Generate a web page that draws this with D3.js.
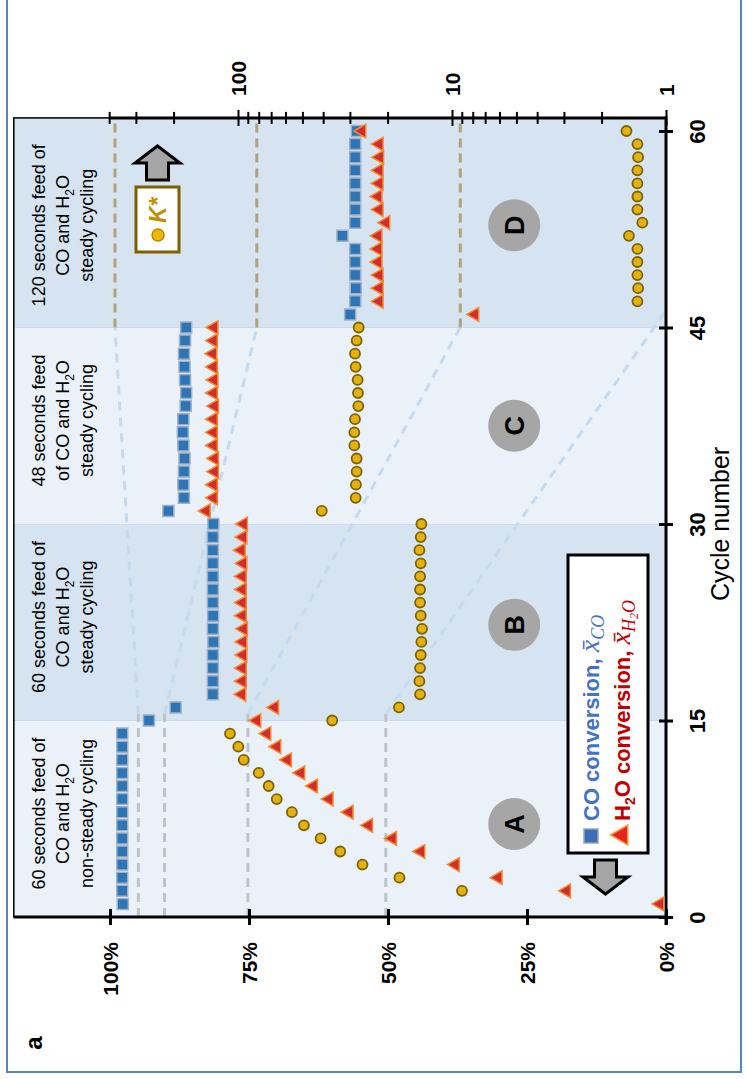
<!DOCTYPE html>
<html>
<head>
<meta charset="utf-8">
<script src="https://cdn.jsdelivr.net/npm/d3@7"></script>
<style>
  body { margin: 0; background: #fff; }
  svg text { font-family: "Liberation Sans", Arial, sans-serif; }
</style>
</head>
<body>
<svg id="chart" width="747" height="1079"></svg>
<script>
// ---- data ----
var cycles = d3.range(1, 61);

// CO conversion, % (cycles 1..60)
var coConversion = [
  97.7, 97.8, 97.8, 97.8, 97.8, 97.8, 97.8, 97.8, 97.8, 97.8, 97.8, 97.8, 97.8, 97.8,
  93.0, 88.2,
  81.5, 81.5, 81.5, 81.5, 81.4, 81.5, 81.45, 81.5, 81.5, 81.5, 81.5, 81.5, 81.5, 81.4,
  89.5,
  86.7, 86.8, 86.7, 86.6, 86.8, 86.9, 86.8, 86.4, 86.3, 86.5, 86.6, 86.7, 86.5, 86.3,
  56.8,
  55.9, 55.8, 55.9, 55.9, 55.9, 58.2, 55.9, 55.9, 55.9, 55.9, 55.9, 55.9, 55.9, 55.6
];

// H2O conversion, % (cycles 1..60)
var h2oConversion = [
  1.1, 17.9, 30.2, 37.9, 44.1, 49.2, 53.5, 57.0, 60.6, 63.4, 65.7, 68.1, 70.0, 71.8,
  73.6, 70.4,
  76.3, 76.2, 76.2, 76.1, 76.1, 76.0, 76.2, 76.2, 76.2, 76.2, 76.1, 76.4, 76.1, 76.0,
  82.7,
  81.4, 81.4, 81.2, 81.2, 81.4, 81.4, 81.4, 81.2, 81.4, 81.3, 81.4, 81.5, 81.4, 81.3,
  34.4,
  51.6, 51.6, 51.6, 51.8, 51.8, 51.8, 50.4, 51.6, 51.8, 51.6, 51.6, 51.5, 51.6, 54.7
];

// K* (log axis), null where no point is drawn
var kStar = [
  null, 8.98, 17.6, 26.2, 33.3, 41.1, 49.2, 56, 65.9, 71.9, 80, 94, 99.7, 109,
  36.3, 17.7,
  14.1, 14.2, 14.1, 14.0, 13.9, 13.8, 14.0, 14.1, 14.1, 14.1, 14.0, 14.2, 14.0, 13.9,
  40.6,
  28.2, 28.1, 27.9, 27.9, 28.6, 28.6, 28.4, 27.4, 27.5, 27.6, 28.2, 28.4, 27.9, 27.3,
  null,
  1.36, 1.35, 1.36, 1.36, 1.36, 1.49, 1.29, 1.36, 1.36, 1.36, 1.36, 1.35, 1.36, 1.53
];

var pctTicks = [0, 25, 50, 75, 100];
var cycleTicks = [0, 15, 30, 45, 60];
var kTicks = [1, 2, 3, 4, 5, 6, 7, 8, 9, 10, 20, 30, 40, 50, 60, 70, 80, 90, 100, 200, 300, 400];
var kLabels = [1, 10, 100];

var bandStarts = [0, 15, 30, 45];
var bandEnds = [15, 30, 45, 61];
var bandLetters = ["A", "B", "C", "D"];
var letterCycles = [7.1, 22.3, 37.5, 52.8];
var bandNoteCycles = [7.9, 22.9, 37.9, 52.8];
var bandNotes = [
  ["60 seconds feed of", "CO and H|2|O", "non-steady cycling"],
  ["60 seconds feed of", "CO and H|2|O", "steady cycling"],
  ["48 seconds feed", "of CO and H|2|O", "steady cycling"],
  ["120 seconds feed of", "CO and H|2|O", "steady cycling"]
];

// dashed guides: % at start (cycles 0-15.5) and target % at the far end
var guideLow = [94.9, 90.2, 75.2, 50.4];
var guideHigh = [99.1, 73.6, 37.0, 0];
var guideHighCycle = [45, 45, 45, 46.3];

// ---- scales ----
var svg = d3.select("#chart");
var x = d3.scaleLinear().domain([0, 100]).range([666, 110]);   // conversion, %
var k = d3.scaleLog().domain([1, 100]).range([666, 238]);      // K*
var y = d3.scaleLinear().domain([0, 60]).range([917, 131]);    // cycle number

var plotL = x(117.3), plotR = x(0), plotT = y(61), plotB = y(0);

// outer figure frame
svg.append("path")
  .attr("d", "M7,0V1072H741V0")
  .attr("fill", "none").attr("stroke", "#5b84b8").attr("stroke-width", 2);

// ---- cycle bands ----
svg.selectAll(".band")
  .data(bandStarts)
  .enter().append("rect")
  .attr("class", "band")
  .attr("x", plotL)
  .attr("width", plotR - plotL)
  .attr("y", function(d, i) { return y(bandEnds[i]); })
  .attr("height", function(d, i) { return y(d) - y(bandEnds[i]); })
  .attr("fill", function(d, i) { return i % 2 ? "#d6e3f0" : "#eaf1f9"; })
  .attr("stroke", function(d, i) { return i % 2 ? "#c8d9ec" : "none"; });

// band notes
bandNotes.forEach(function(lines, i) {
  lines.forEach(function(line, j) {
    var t = svg.append("text")
      .attr("transform", "translate(" + (39 + j * 24) + "," + y(bandNoteCycles[i]) + ") rotate(-90)")
      .attr("dy", "0.35em")
      .attr("text-anchor", "middle")
      .attr("font-size", 18);
    line.split("|").forEach(function(part, p) {
      var s = t.append("tspan").text(part);
      if (p === 1) s.attr("font-size", 12).attr("dy", 5);
      if (p === 2) s.attr("dy", -5);
    });
  });
});

// band letters
var letters = svg.selectAll(".letter")
  .data(letterCycles)
  .enter().append("g")
  .attr("transform", function(d) { return "translate(" + x(27.3) + "," + y(d) + ")"; });
letters.append("circle").attr("r", 26).attr("fill", "#a6a6a6");
letters.append("text")
  .attr("transform", "rotate(-90)")
  .attr("dy", "0.36em")
  .attr("text-anchor", "middle")
  .attr("font-size", 27).attr("font-weight", "bold")
  .text(function(d, i) { return bandLetters[i]; });

// ---- dashed guides ----
var guides = svg.append("g").attr("fill", "none").attr("stroke-width", 3);
guideLow.forEach(function(p, i) {
  guides.append("line")
    .attr("x1", x(p)).attr("x2", x(p))
    .attr("y1", y(0)).attr("y2", y(15.5))
    .attr("stroke", "#bfc4cb").attr("stroke-dasharray", "9,6");
  guides.append("line")
    .attr("x1", x(p)).attr("y1", y(15.5))
    .attr("x2", x(guideHigh[i])).attr("y2", y(guideHighCycle[i]))
    .attr("stroke", "#c4dbef").attr("stroke-dasharray", "9,7");
  if (guideHighCycle[i] === 45) {
    guides.append("line")
      .attr("x1", x(guideHigh[i])).attr("x2", x(guideHigh[i]))
      .attr("y1", y(45)).attr("y2", y(61))
      .attr("stroke", "#b0a27a").attr("stroke-dasharray", "9,6");
  }
});

// ---- axes ----
svg.append("rect")
  .attr("x", plotL).attr("y", plotT)
  .attr("width", plotR - plotL).attr("height", plotB - plotT)
  .attr("fill", "none").attr("stroke", "#000").attr("stroke-width", 1.5);

var axisPct = svg.append("g")
  .attr("transform", "translate(0," + plotB + ")")
  .call(d3.axisBottom(x).tickValues(pctTicks).tickSizeOuter(0)
    .tickFormat(function(d) { return d + "%"; }));
axisPct.select(".domain").remove();
axisPct.selectAll(".tick line").attr("y1", -8).attr("y2", 8).attr("stroke-width", 3);
axisPct.selectAll(".tick text")
  .attr("transform", "rotate(-90)")
  .attr("x", -25).attr("y", 0).attr("dy", "0.36em")
  .attr("text-anchor", "end")
  .attr("font-size", 21).attr("font-weight", "bold").attr("fill", "#000");
svg.append("line")
  .attr("x1", plotL).attr("x2", plotR + 1.5)
  .attr("y1", plotB).attr("y2", plotB)
  .attr("stroke", "#000").attr("stroke-width", 3);

var axisCycle = svg.append("g")
  .attr("transform", "translate(" + plotR + ",0)")
  .call(d3.axisRight(y).tickValues(cycleTicks).tickSizeOuter(0));
axisCycle.select(".domain").remove();
axisCycle.selectAll(".tick line").attr("x1", -7).attr("x2", 7).attr("stroke-width", 3);
axisCycle.selectAll(".tick text")
  .attr("transform", "rotate(-90)")
  .attr("x", 0).attr("y", 0).attr("dy", 39)
  .attr("text-anchor", "middle")
  .attr("font-size", 22).attr("font-weight", "bold").attr("fill", "#000");
svg.append("line")
  .attr("x1", plotR).attr("x2", plotR)
  .attr("y1", plotT - 1.5).attr("y2", plotB + 8)
  .attr("stroke", "#000").attr("stroke-width", 3);

var axisK = svg.append("g")
  .attr("transform", "translate(0," + plotT + ")")
  .call(d3.axisTop(k).tickValues(kTicks).tickSizeOuter(0)
    .tickFormat(function(d) { return kLabels.indexOf(d) >= 0 ? d : ""; }));
axisK.select(".domain").remove();
axisK.selectAll(".tick line")
  .attr("y1", function(d) { return kLabels.indexOf(d) >= 0 ? -8 : -6; })
  .attr("y2", function(d) { return kLabels.indexOf(d) >= 0 ? 8 : 6; })
  .attr("stroke-width", 2);
axisK.selectAll(".tick text")
  .attr("transform", "rotate(-90)")
  .attr("x", 22).attr("y", 0).attr("dy", "0.36em")
  .attr("text-anchor", "start")
  .attr("font-size", 21).attr("font-weight", "bold").attr("fill", "#000");
svg.append("line")
  .attr("x1", k(400)).attr("x2", plotR)
  .attr("y1", plotT).attr("y2", plotT)
  .attr("stroke", "#000").attr("stroke-width", 3);

svg.append("text")
  .attr("transform", "translate(729," + y(30) + ") rotate(-90)")
  .attr("text-anchor", "middle")
  .attr("font-size", 25)
  .text("Cycle number");

svg.append("text")
  .attr("transform", "translate(33,1043) rotate(-90)")
  .attr("dy", "0.36em")
  .attr("text-anchor", "middle")
  .attr("font-size", 24).attr("font-weight", "bold")
  .text("a");

// ---- markers ----
var square = d3.symbol().type(d3.symbolSquare).size(121);
var triangle = d3.symbol().type(d3.symbolTriangle).size(80);

svg.append("g").selectAll("path")
  .data(cycles)
  .enter().append("path")
  .attr("d", square)
  .attr("transform", function(d, i) { return "translate(" + x(coConversion[i]) + "," + y(d) + ")"; })
  .attr("fill", "#2e75b6").attr("stroke", "#9fb1c6").attr("stroke-width", 1.5);

svg.append("g").selectAll("path")
  .data(cycles)
  .enter().append("path")
  .attr("d", triangle)
  .attr("transform", function(d, i) { return "translate(" + x(h2oConversion[i]) + "," + y(d) + ") rotate(-90)"; })
  .attr("fill", "#d42b2b").attr("stroke", "#f28a30").attr("stroke-width", 1.5);

svg.append("g").selectAll("circle")
  .data(cycles.filter(function(d, i) { return kStar[i] !== null; }))
  .enter().append("circle")
  .attr("cx", function(d) { return k(kStar[d - 1]); })
  .attr("cy", function(d) { return y(d); })
  .attr("r", 5)
  .attr("fill", "#e5b10f").attr("stroke", "#7a6208").attr("stroke-width", 1.8);

// ---- K* legend ----
function arrow(g, cx, tipY, dir) {
  // dir = -1 points up, +1 points down
  var hw = 22.5, sw = 11, hh = 17, sh = 17;
  var b = tipY - dir * hh;
  var pts = [[cx, tipY], [cx + hw, b], [cx + sw, b], [cx + sw, b - dir * sh],
             [cx - sw, b - dir * sh], [cx - sw, b], [cx - hw, b]];
  g.append("path")
    .attr("d", "M" + pts.join("L") + "Z")
    .attr("fill", "#a6a6a6").attr("stroke", "#000").attr("stroke-width", 3)
    .attr("stroke-linejoin", "miter");
}

arrow(svg, 157.5, 146, -1);
svg.append("rect")
  .attr("x", 136).attr("y", 187).attr("width", 43).attr("height", 65)
  .attr("fill", "#fff").attr("stroke", "#7f6000").attr("stroke-width", 3);
svg.append("circle")
  .attr("cx", 158).attr("cy", 235).attr("r", 6)
  .attr("fill", "#f2b800").attr("stroke", "#b08a00").attr("stroke-width", 1.5);
svg.append("text")
  .attr("transform", "translate(158,223) rotate(-90)")
  .attr("dy", "0.36em")
  .attr("font-size", 23).attr("font-weight", "bold").attr("font-style", "italic")
  .attr("fill", "#bf9000")
  .text("K*");

// ---- conversion legend ----
svg.append("rect")
  .attr("x", 568).attr("y", 555).attr("width", 80).attr("height", 298)
  .attr("fill", "#fff").attr("stroke", "#000").attr("stroke-width", 3);
svg.append("path")
  .attr("d", d3.symbol().type(d3.symbolSquare).size(196))
  .attr("transform", "translate(591,836)")
  .attr("fill", "#3a6fb8").attr("stroke", "#9aa6b4").attr("stroke-width", 1.5);
svg.append("path")
  .attr("d", d3.symbol().type(d3.symbolTriangle).size(170))
  .attr("transform", "translate(622,835) rotate(-90)")
  .attr("fill", "#e8231b").attr("stroke", "#f59a3a").attr("stroke-width", 1.5);

function serif(t, size, dy, str) {
  return t.append("tspan")
    .attr("font-family", "Liberation Serif").attr("font-style", "italic")
    .attr("font-weight", "normal").attr("font-size", size).attr("dy", dy)
    .text(str);
}

var coText = svg.append("text")
  .attr("transform", "translate(591,821) rotate(-90)")
  .attr("dy", "0.36em")
  .attr("font-size", 22).attr("font-weight", "bold").attr("fill", "#4472c4");
coText.append("tspan").text("CO conversion, ");
serif(coText, 28, 0, "x\u0304");
serif(coText, 18, 5, "CO");

var h2oText = svg.append("text")
  .attr("transform", "translate(622,821) rotate(-90)")
  .attr("dy", "0.36em")
  .attr("font-size", 22).attr("font-weight", "bold").attr("fill", "#c00000");
h2oText.append("tspan").text("H");
h2oText.append("tspan").attr("font-size", 14).attr("dy", 5).text("2");
h2oText.append("tspan").attr("dy", -5).text("O conversion, ");
serif(h2oText, 28, 0, "x\u0304");
serif(h2oText, 18, 5, "H");
serif(h2oText, 12, 3, "2");
serif(h2oText, 18, -3, "O");

arrow(svg, 605.5, 894, 1);
</script>
</body>
</html>
